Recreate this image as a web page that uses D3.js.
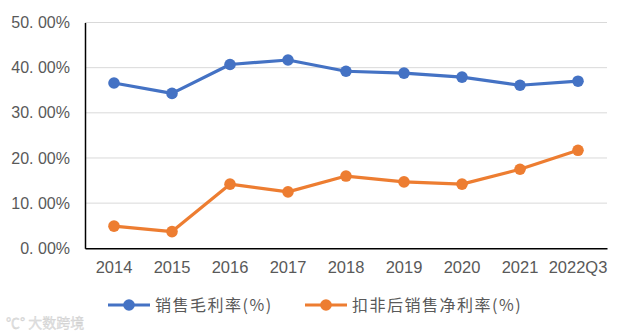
<!DOCTYPE html>
<html><head><meta charset="utf-8">
<script src="https://cdn.jsdelivr.net/npm/d3@7"></script>
<style>
html,body{margin:0;padding:0;background:#fff;}
svg{display:block;}
</style></head>
<body>
<svg id="chart" width="631" height="336"></svg>
<script>
// Years shown on the x axis
const categories = ["2014","2015","2016","2017","2018","2019","2020","2021","2022Q3"];
// Gross margin (%)
const grossMargin = [36.6, 34.3, 40.7, 41.7, 39.2, 38.8, 37.9, 36.1, 37.0];
// Net margin after non-recurring items (%)
const netMargin = [4.9, 3.7, 14.2, 12.5, 16.0, 14.7, 14.2, 17.5, 21.7];
const yTicks = [0, 10, 20, 30, 40, 50];
const seriesNames = ["销售毛利率(%)", "扣非后销售净利率(%)"];
const colors = ["#4472C4", "#ED7D31"];

const svg = d3.select("#chart");
const plot = {left: 85, right: 607, top: 22.5, bottom: 248.3};

const x = d3.scaleBand().domain(categories).range([plot.left, plot.right]);
const y = d3.scaleLinear().domain([0, 50]).range([plot.bottom, plot.top]);

// horizontal gridlines
svg.append("g").selectAll("line").data(yTicks.filter(d => d > 0)).join("line")
  .attr("x1", plot.left).attr("x2", plot.right)
  .attr("y1", d => y(d)).attr("y2", d => y(d))
  .attr("stroke", "#d9d9d9").attr("stroke-width", 1);

// y axis
const yAxis = d3.axisLeft(y).tickValues(yTicks).tickSize(0).tickPadding(15)
  .tickFormat(d => d3.format(".2f")(d).replace(".", ". ") + "%");
const gy = svg.append("g").attr("transform", `translate(${plot.left},0)`).call(yAxis);
gy.select(".domain").attr("stroke", "#000").attr("stroke-width", 1.5);
gy.selectAll("text").attr("fill", "#595959")
  .style("font-family", "'Liberation Sans', Arial, sans-serif").style("font-size", "16px");

// x axis
const xAxis = d3.axisBottom(x).tickSize(0).tickPadding(13);
const gx = svg.append("g").attr("transform", `translate(0,${plot.bottom})`).call(xAxis);
gx.select(".domain").attr("stroke", "#000").attr("stroke-width", 1.5);
gx.selectAll("text").attr("fill", "#595959")
  .style("font-family", "'Liberation Sans', Arial, sans-serif").style("font-size", "16.5px");

const line = d3.line().x((d, i) => x(categories[i]) + x.bandwidth() / 2).y(d => y(d));

[grossMargin, netMargin].forEach((vals, k) => {
  svg.append("path").datum(vals).attr("d", line)
    .attr("fill", "none").attr("stroke", colors[k]).attr("stroke-width", 3.2)
    .attr("stroke-linejoin", "round");
  svg.append("g").selectAll("circle").data(vals).join("circle")
    .attr("cx", (d, i) => x(categories[i]) + x.bandwidth() / 2)
    .attr("cy", d => y(d)).attr("r", 5.8).attr("fill", colors[k]);
});

// legend
const legendItems = [{x: 108}, {x: 305}];
legendItems.forEach((it, k) => {
  const g = svg.append("g").attr("transform", `translate(${it.x},305)`);
  g.append("line").attr("x1", 0).attr("x2", 42).attr("y1", 0).attr("y2", 0)
    .attr("stroke", colors[k]).attr("stroke-width", 3.2);
  g.append("circle").attr("cx", 21).attr("cy", 0).attr("r", 5.8).attr("fill", colors[k]);
  g.append("text").attr("x", 47).attr("y", 6).text(seriesNames[k])
    .attr("fill", "#595959")
    .style("font-family", "'Noto Sans CJK SC', sans-serif").style("font-size", "16px")
    .style("letter-spacing", "1.5px");
});

// faint source mark
svg.append("text").attr("x", 6).attr("y", 328).text("℃° 大数跨境")
  .attr("fill", "#e2e2e2").attr("stroke", "#cccccc").attr("stroke-width", 0.3)
  .style("font-family", "'Noto Sans CJK SC', sans-serif").style("font-size", "14px");
</script>
</body></html>
